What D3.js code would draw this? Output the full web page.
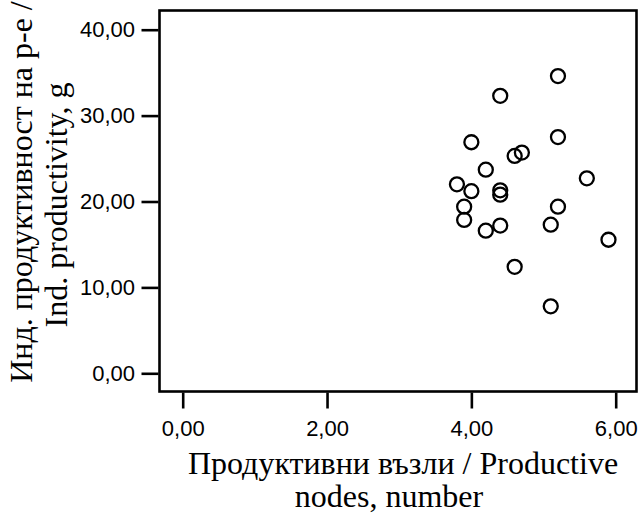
<!DOCTYPE html>
<html>
<head>
<meta charset="utf-8">
<script src="https://cdn.jsdelivr.net/npm/d3@7"></script>
<style>
  html, body { margin: 0; padding: 0; background: #fff; }
  svg { display: block; }
</style>
</head>
<body>
<svg id="chart" width="639" height="519"></svg>
<script>
// Data: productive nodes (x) vs individual plant productivity, g (y)
const nodes = [5.2, 4.4, 4.0, 5.2, 4.6, 4.7, 4.2, 5.6, 3.8, 4.0, 4.4, 4.4, 3.9, 5.2, 3.9, 4.2, 4.4, 5.1, 5.9, 4.6, 5.1];
const productivity = [34.6, 32.3, 26.9, 27.5, 25.3, 25.7, 23.7, 22.7, 22.0, 21.2, 21.3, 20.8, 19.4, 19.4, 17.85, 16.6, 17.2, 17.3, 15.55, 12.4, 7.8];
const xTicks = [0, 2, 4, 6];
const yTicks = [0, 10, 20, 30, 40];
const xTitleLines = ["Продуктивни възли / Productive", "nodes, number"];
const yTitleLines = ["Инд. продуктивност на р-е /", "Ind. productivity, g"];

const svg = d3.select("#chart");
const frame = { left: 159.5, top: 10.5, right: 636.5, bottom: 391.5 };

const x = d3.scaleLinear().domain([0, 6]).range([182.7, 615.7]);
const y = d3.scaleLinear().domain([0, 40]).range([373.3, 29.7]);
const fmt = d => d3.format(".2f")(d).replace(".", ",");

// Frame
svg.append("rect")
  .attr("x", frame.left).attr("y", frame.top)
  .attr("width", frame.right - frame.left)
  .attr("height", frame.bottom - frame.top)
  .attr("fill", "none").attr("stroke", "#000").attr("stroke-width", 2.6);

// Axes
const yAxis = svg.append("g")
  .attr("transform", `translate(${frame.left - 1},0)`)
  .call(d3.axisLeft(y).tickValues(yTicks).tickFormat(fmt).tickSize(17).tickPadding(6.5));
const xAxis = svg.append("g")
  .attr("transform", `translate(0,${frame.bottom + 1})`)
  .call(d3.axisBottom(x).tickValues(xTicks).tickFormat(fmt).tickSize(16).tickPadding(11.5));

[yAxis, xAxis].forEach(g => {
  g.select(".domain").remove();
  g.selectAll(".tick line").attr("stroke", "#000").attr("stroke-width", 2.6);
  g.selectAll(".tick text")
    .attr("fill", "#000")
    .style("font-family", "'Liberation Sans', Arial, sans-serif")
    .style("font-size", "22px");
});

// Points
svg.append("g").selectAll("circle")
  .data(nodes.map((n, i) => ({ n, p: productivity[i] })))
  .join("circle")
  .attr("cx", d => x(d.n))
  .attr("cy", d => y(d.p))
  .attr("r", 7)
  .attr("fill", "none")
  .attr("stroke", "#000")
  .attr("stroke-width", 2.3);

// X title
const titleFont = "'Liberation Serif', 'Times New Roman', serif";
const xTitleCenters = [403, 389];
const xTitleBaselines = [473.5, 507];
svg.append("g").selectAll("text")
  .data(xTitleLines)
  .join("text")
  .attr("x", (d, i) => xTitleCenters[i])
  .attr("y", (d, i) => xTitleBaselines[i])
  .attr("text-anchor", "middle")
  .style("font-family", titleFont)
  .style("font-size", "32px")
  .attr("fill", "#000")
  .text(d => d);

// Y title (rotated)
const yTitleCenters = [192, 205];
const yTitleBaselines = [32, 67];
svg.append("g").selectAll("text")
  .data(yTitleLines)
  .join("text")
  .attr("transform", (d, i) => `translate(${yTitleBaselines[i]},${yTitleCenters[i]}) rotate(-90)`)
  .attr("text-anchor", "middle")
  .style("font-family", titleFont)
  .style("font-size", "32px")
  .attr("fill", "#000")
  .text(d => d);
</script>
</body>
</html>
